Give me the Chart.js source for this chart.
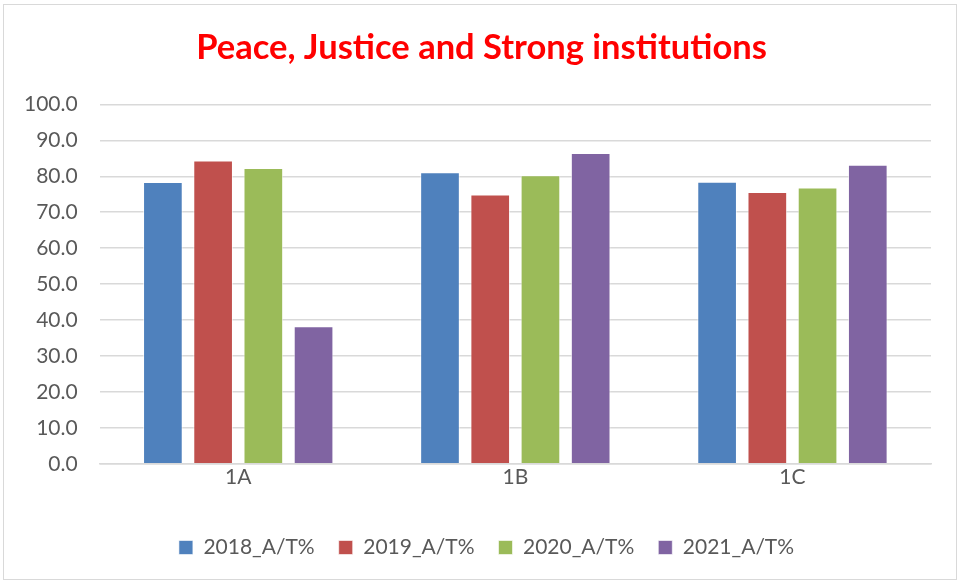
<!DOCTYPE html>
<html>
<head>
<meta charset="utf-8">
<script src="https://cdn.jsdelivr.net/npm/chart.js@4/dist/chart.umd.min.js"></script>
<style>
  html, body { margin: 0; padding: 0; background: #fff; }
  #wrap { position: relative; width: 961px; height: 584px; }
</style>
</head>
<body>
<div id="wrap"><canvas id="chart"></canvas></div>
<script>
// ============ Data ============
const categories = ['1A', '1B', '1C'];
const seriesNames = ['2018_A/T%', '2019_A/T%', '2020_A/T%', '2021_A/T%'];
const values2018 = [78.4, 81.1, 78.5];
const values2019 = [84.4, 74.9, 75.6];
const values2020 = [82.3, 80.3, 76.9];
const values2021 = [38.3, 86.5, 83.2];
const seriesColors = ['#4f81bd', '#c0504d', '#9bbb59', '#8064a2'];

const FONT = 'Lato, "Open Sans", sans-serif';
const TEXT_GREY = '#595959';

// outer frame like the Excel chart area
const framePlugin = {
  id: 'frame',
  afterLayout(chart) {
    // title and legend are centred on the whole picture, not on the plot box
    if (chart.titleBlock) {
      chart.titleBlock.left += 15;
      chart.titleBlock.right += 15;
    }
    if (chart.legend) {
      chart.legend.left += 20;
      chart.legend.right += 20;
    }
  },
  afterDraw(chart) {
    const ctx = chart.ctx;
    ctx.save();
    ctx.strokeStyle = '#d9d9d9';
    ctx.lineWidth = 1;
    ctx.strokeRect(3.5, 4.5, 953, 575);
    ctx.restore();
  },
};

const allValues = [values2018, values2019, values2020, values2021];

const ctx = document.getElementById('chart').getContext('2d');
new Chart(ctx, {
  type: 'bar',
  data: {
    labels: categories,
    datasets: seriesNames.map((name, i) => ({
      label: name,
      data: allValues[i],
      backgroundColor: seriesColors[i],
      borderColor: 'rgba(255,255,255,0.6)',
      borderWidth: 1,
      categoryPercentage: 0.725,
      barPercentage: 0.79,
    })),
  },
  options: {
    responsive: true,
    maintainAspectRatio: false,
    animation: false,
    layout: { padding: { left: 2, right: 30, top: 27, bottom: 16 } },
    plugins: {
      title: {
        display: true,
        text: 'Peace, Justice and Strong institutions',
        color: '#ff0000',
        font: { family: FONT, size: 34.5, weight: 'bold' },
        padding: { top: 0, bottom: 36 },
      },
      legend: {
        position: 'bottom',
        labels: {
          color: TEXT_GREY,
          font: { family: FONT, size: 21 },
          boxWidth: 14,
          boxHeight: 14,
          padding: 24,
        },
      },
      tooltip: { enabled: false },
    },
    scales: {
      y: {
        min: 0,
        max: 100,
        ticks: {
          stepSize: 10,
          color: TEXT_GREY,
          font: { family: FONT, size: 21 },
          padding: 22,
          callback: v => v.toFixed(1),
        },
        grid: { color: '#d9d9d9', drawTicks: false, lineWidth: 1.5 },
        border: { display: false },
      },
      x: {
        ticks: {
          color: TEXT_GREY,
          font: { family: FONT, size: 21 },
          padding: 1,
        },
        grid: { display: false, drawTicks: false },
        border: { color: '#d9d9d9', width: 1.5 },
        afterFit: scale => { scale.height += 22; },
      },
    },
  },
  plugins: [framePlugin],
});
</script>
</body>
</html>
